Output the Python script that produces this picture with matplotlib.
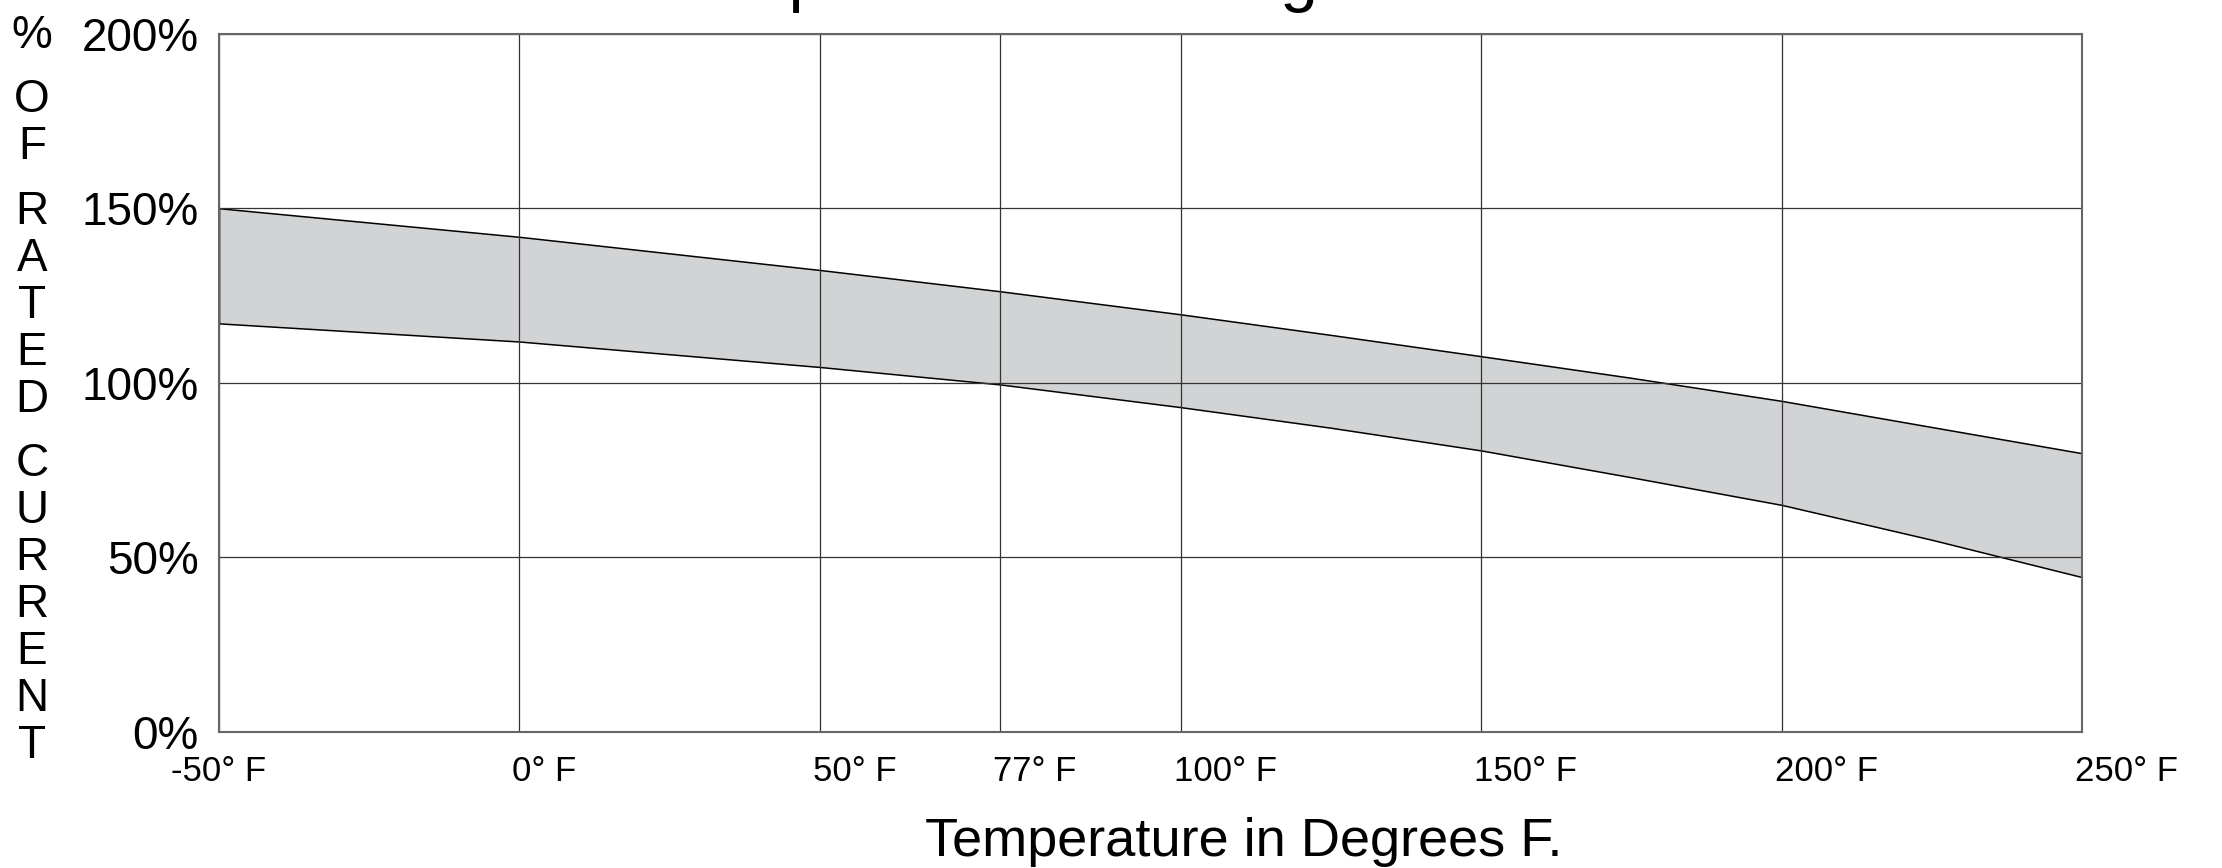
import numpy as np
import matplotlib
matplotlib.use("Agg")
import matplotlib.pyplot as plt
from matplotlib import font_manager
from matplotlib.transforms import ScaledTranslation

# values
temps = [-50, 0, 50, 77, 100, 125, 150, 175, 200, 225, 250]
upper = [150, 141.8, 132.3, 126.2, 119.6, 113.7, 107.6, 101.4, 94.8, 87.3, 79.8]
lower = [117, 111.8, 104.5, 99.5, 93.0, 87.1, 80.6, 72.9, 65.0, 55.0, 44.3]

x_ticks = [-50, 0, 50, 77, 100, 150, 200, 250]
x_labels = ['-50° F', '0° F', '50° F', '77° F', '100° F', '150° F', '200° F', '250° F']
y_ticks = [0, 50, 100, 150, 200]
y_labels = ['0%', '50%', '100%', '150%', '200%']
ylabel_words = ['%', 'OF', 'RATED', 'CURRENT']
title = 'Temperature Derating Curves'
xlabel = 'Temperature in Degrees F.'

# the printed grid is not linear: 50-77 and 77-100 get the same width
grid_pos = [0, 1, 2, 2.6, 3.2, 4.2, 5.2, 6.2]


def fwd(t):
    return np.interp(t, x_ticks, grid_pos)


def inv(p):
    return np.interp(p, grid_pos, x_ticks)


plt.rcParams['font.family'] = 'Liberation Sans'

names = {f.name for f in font_manager.fontManager.ttflist}
if 'Liberation Sans Narrow' in names:
    tick_font, tick_size = 'Liberation Sans Narrow', 28
else:
    tick_font, tick_size = 'Liberation Sans', 25

W, H = 2222, 868
fig = plt.figure(figsize=(W / 100, H / 100), dpi=100)
left, right, top, bottom = 219, 2082, 33.7, 731.7
ax = fig.add_axes([left / W, 1 - bottom / H, (right - left) / W, (bottom - top) / H])

ax.set_xscale('function', functions=(fwd, inv))
ax.fill_between(temps, lower, upper, facecolor='#d1d3d4', edgecolor='black', linewidth=1.1)

ax.set_xlim(-50, 250)
ax.set_ylim(0, 200)
ax.set_xticks(x_ticks)
ax.set_xticklabels(x_labels, fontfamily=tick_font, fontsize=tick_size)
ax.set_yticks(y_ticks)
ax.set_yticklabels(y_labels, fontsize=33)
ax.tick_params(axis='both', length=0)
ax.tick_params(axis='x', pad=16.5)
ax.tick_params(axis='y', pad=14.5)
ax.grid(True, color='#333333', linewidth=0.9)
for s in ax.spines.values():
    s.set_color('#666666')
    s.set_linewidth(1.5)

# labels sit a little left of their grid line, except the first one
shift = ScaledTranslation(-7 / 100, 0, fig.dpi_scale_trans)
for i, lab in enumerate(ax.get_xticklabels()):
    if i == 0:
        lab.set_ha('center')
    else:
        lab.set_ha('left')
        lab.set_transform(lab.get_transform() + shift)

ax.set_xlabel(xlabel, fontsize=39)
ax.xaxis.set_label_coords((1244 - left) / (right - left), (bottom - 856) / (bottom - top))
ax.xaxis.label.set_va('baseline')

# stacked y label
y = 31.7
for i, word in enumerate(ylabel_words):
    for j, ch in enumerate(word):
        if i or j:
            y += 47 if j else 64.3
        fig.text(32 / W, 1 - (y + 16.4) / H, ch, ha='center', va='baseline', fontsize=33)

# title is cut off by the top edge in the original
fig.text(1106 / W, 1 + 1 / H, title, ha='center', va='baseline', fontsize=49)

fig.savefig('out.png', dpi=100)
